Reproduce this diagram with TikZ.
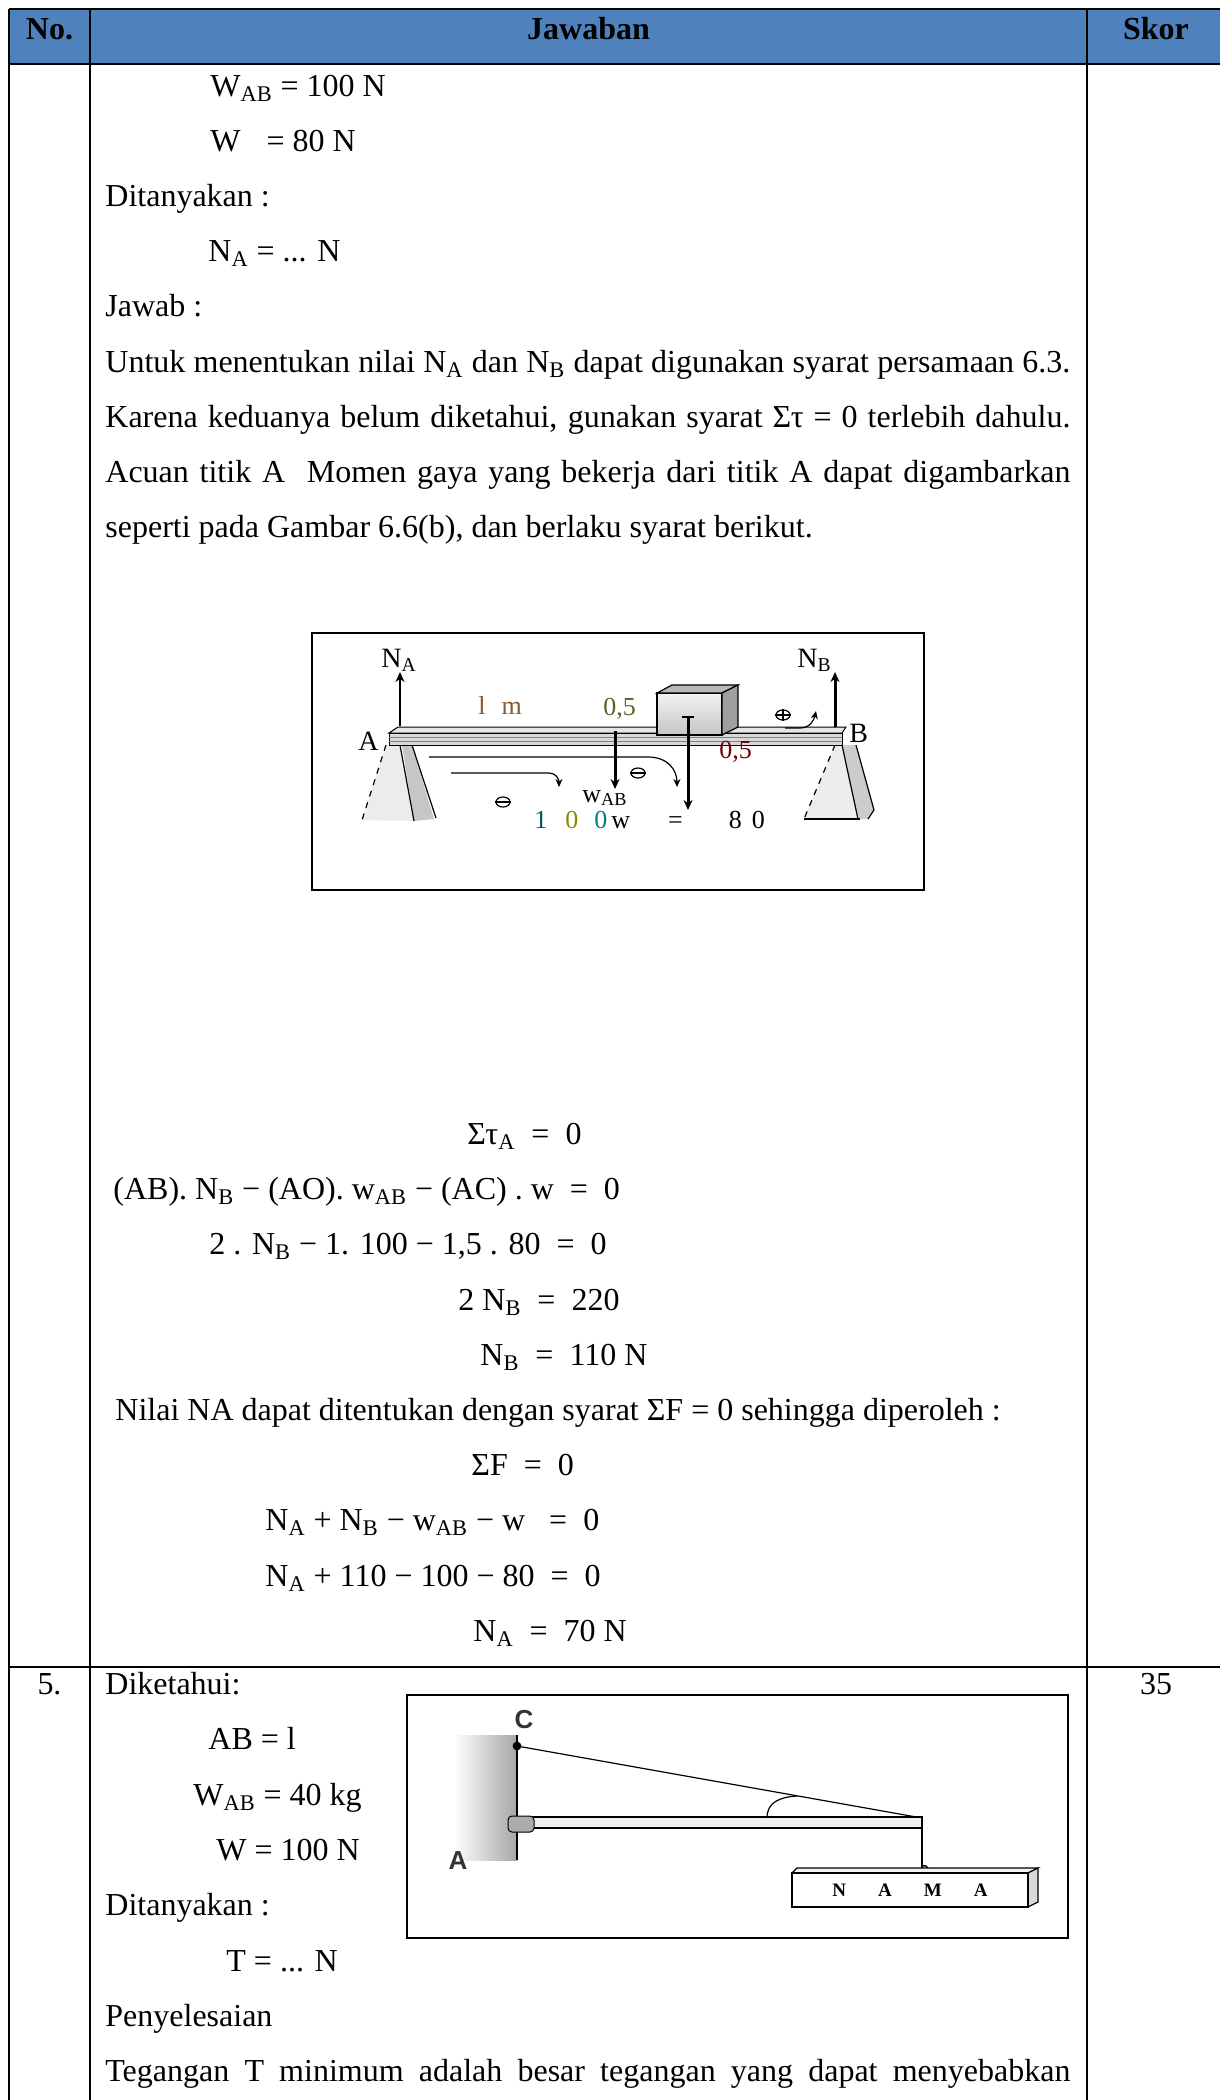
\documentclass[tikz,border=0pt]{standalone}
\usepackage{fontspec}
\setmainfont{Liberation Serif}
\newfontfamily\labelsans{Liberation Sans}
\usetikzlibrary{arrows.meta,shapes.geometric}
\definecolor{hdrblue}{RGB}{79,129,189}
\newcommand\fs{\fontsize{16}{19}\selectfont}
\newcommand\sbs[1]{\textsubscript{#1}}
\newcommand\jline[1]{\makebox[482.5pt][s]{#1}}

\begin{document}
\begin{tikzpicture}[x=0.5pt,y=-0.5pt,
    txt/.style={anchor=base west,inner sep=0pt,font=\fs},
    mid/.style={anchor=base,inner sep=0pt,font=\fs},
    hd/.style={anchor=base,inner sep=0pt,font=\fs\bfseries},
    tbl/.style={line width=0.9pt},
    frame/.style={draw,line width=0.75pt},
    lbl/.style={anchor=base west,inner sep=0pt,font=\fontsize{13}{13}\selectfont},
    force/.style={line width=1.5pt,-{Stealth[length=5pt,width=4.5pt]}},
    moment/.style={line width=0.6pt,-{Stealth[length=4pt,width=3.5pt]}},
    sgn/.style={draw,ellipse,minimum width=7pt,minimum height=5pt,inner sep=0pt,line width=0.6pt}]
  \useasboundingbox (0,0) rectangle (1220,2100);
  \fill[white] (0,0) rectangle (1220,2100);

  % table
  \fill[hdrblue] (9,9) rectangle (1225,64);
  \draw[tbl] (9,9) -- (1225,9);
  \draw[tbl] (9,64) -- (1225,64);
  \draw[tbl] (9,1667) -- (1225,1667);
  \foreach \x in {9,90,1087,1225} \draw[tbl] (\x,9) -- (\x,2110);
  \node[hd] (hno) at (49.5,39) {No.};
  \node[hd] (hjaw) at (588.5,39) {Jawaban};
  \node[hd] (hskor) at (1156,39) {Skor};

  % row 4 (lanjutan)
  \node[txt] (wab) at (210,96) {W\sbs{AB} = 100 N};
  \node[txt] (w) at (210,151) {W\hspace{13pt}= 80 N};
  \node[txt] (dit) at (105,206) {Ditanyakan :};
  \node[txt] (na) at (208,261) {N\sbs{A} = ... N};
  \node[txt] (jaw) at (105,316) {Jawab :};
  \node[txt] (par1) at (105,372) {\jline{Untuk menentukan nilai N\sbs{A} dan N\sbs{B} dapat digunakan syarat persamaan 6.3.}};
  \node[txt] (par2) at (105,427) {\jline{Karena keduanya belum diketahui, gunakan syarat Στ = 0 terlebih dahulu.}};
  \node[txt] (par3) at (105,482) {\jline{Acuan titik A\ \ Momen gaya yang bekerja dari titik A dapat digambarkan}};
  \node[txt] (par4) at (105,537) {seperti pada Gambar 6.6(b), dan berlaku syarat berikut.};

  % gambar batang
  \draw[frame] (312,633) rectangle (924,890);
  % penyangga A
  \fill[gray!15] (386,745) -- (362,820) -- (414,821) -- (400,745) -- cycle;
  \fill[gray!45] (402,745) -- (414,821) -- (434,819) -- (412,745) -- cycle;
  \draw[dashed,line width=0.6pt] (386,745) -- (362,820);
  \draw[line width=0.6pt] (400,745) -- (414,821);
  \draw[line width=0.6pt] (412,745) -- (436,818);
  % penyangga B
  \fill[gray!15] (835,745) -- (804,819) -- (858,819) -- (842,745) -- cycle;
  \fill[gray!40] (842,745) -- (858,819) -- (868,819) -- (874,810) -- (856,745) -- cycle;
  \draw[dashed,line width=0.6pt] (835,745) -- (804,819);
  \draw[line width=0.6pt] (804,819) -- (860,819);
  \draw[line width=0.6pt] (842,745) -- (858,819);
  \draw[line width=0.6pt] (856,745) -- (874,810) -- (868,819);
  % batang
  \filldraw[fill=gray!20,line width=0.5pt] (389,733) -- (398,727) -- (846,727) -- (842,733) -- cycle;
  \filldraw[fill=gray!30,line width=0.5pt] (389,733) rectangle (842,745);
  \draw[gray,line width=0.4pt] (389,737) -- (842,737);
  \draw[gray,line width=0.4pt] (389,741) -- (842,741);
  % beban
  \shadedraw[top color=gray!10,bottom color=gray!45,line width=0.6pt] (657,693) rectangle (722,735);
  \filldraw[fill=gray!55,line width=0.6pt] (657,693) -- (672,685) -- (738,685) -- (722,693) -- cycle;
  \filldraw[fill=gray!75,line width=0.6pt] (722,693) -- (738,685) -- (738,727) -- (722,735) -- cycle;
  % gaya
  \coordinate (pA) at (400,726);
  \coordinate (pB) at (835,727);
  \coordinate (pO) at (615,731);
  \coordinate (pC) at (688,717);
  \draw[line width=0.8pt,-{Stealth[length=5pt,width=4.5pt]}] (pA) -- ++(0,-54);
  \draw[force] (pB) -- ++(0,-55);
  \draw[force] (pO) -- ++(0,58);
  \draw[force] (pC) -- ++(0,93);
  \draw[line width=1.2pt] (682,717) -- (694,717);
  % momen
  \draw[moment] (429,757) -- (648,757) .. controls (668,757) and (677,770) .. (677,787);
  \draw[moment] (451,773) -- (549,773) .. controls (556,773) and (559,779) .. (559,787);
  \draw[moment] (785,728) -- (800,728) .. controls (810,728) and (814,720) .. (816,711);
  \node[sgn] (s1) at (783,715) {};
  \draw[line width=0.6pt] (s1.west) -- (s1.east) (s1.north) -- (s1.south);
  \node[sgn] (s2) at (638,773) {};
  \draw[line width=0.6pt] (s2.west) -- (s2.east);
  \node[sgn] (s3) at (503,802) {};
  \draw[line width=0.6pt] (s3.west) -- (s3.east);
  % label
  \node[lbl,font=\fontsize{14}{14}\selectfont] (lNA) at (381,667) {N\sbs{A}};
  \node[lbl,font=\fontsize{14}{14}\selectfont] (lNB) at (797,667) {N\sbs{B}};
  \node[lbl,font=\fontsize{14}{14}\selectfont] (lA) at (358,750) {A};
  \node[lbl,font=\fontsize{14}{14}\selectfont] (lB) at (849,742) {B};
  \node[lbl,text=brown!70!black] (l1m) at (478,714) {l\hspace{8pt}m};
  \node[lbl,text=olive!60!black] (lh1) at (603,715) {0,5};
  \node[lbl,text=red!45!black] (lh2) at (719,758) {0,5};
  \node[lbl] (lwab) at (582,802) {w\sbs{AB}};
  \node[lbl] (ltot) at (534,828) {{\color{teal!70!black}1\hspace{9pt}\color{olive}0\hspace{8pt}\color{teal}0}\hspace{2pt}w\hspace{19pt}=\hspace{23pt}8\hspace{5pt}0};

  % persamaan
  \node[txt] (eq1) at (467,1144) {Στ\sbs{A}\ \ =\ \ 0};
  \node[txt] (eq2) at (113,1199) {(AB). N\sbs{B} − (AO). w\sbs{AB} − (AC) . w\ \ =\ \ 0};
  \node[txt] (eq3) at (209,1254) {2 . N\sbs{B} − 1. 100 − 1,5 . 80\ \ =\ \ 0};
  \node[txt] (eq4) at (458,1310) {2 N\sbs{B}\ \ =\ \ 220};
  \node[txt] (eq5) at (480,1365) {N\sbs{B}\ \ =\ \ 110 N};
  \node[txt] (eq6) at (115,1420) {Nilai NA dapat ditentukan dengan syarat ΣF = 0 sehingga diperoleh :};
  \node[txt] (eq7) at (471,1475) {ΣF\ \ =\ \ 0};
  \node[txt] (eq8) at (265,1530) {N\sbs{A} + N\sbs{B} − w\sbs{AB} − w\ \ \ =\ \ 0};
  \node[txt] (eq9) at (265,1586) {N\sbs{A} + 110 − 100 − 80\ \ =\ \ 0};
  \node[txt] (eq10) at (473,1641) {N\sbs{A}\ \ =\ \ 70 N};

  % row 5
  \node[mid] (no5) at (49.5,1694) {5.};
  \node[mid] (skor5) at (1156,1694) {35};
  \node[txt] (dik) at (105,1694) {Diketahui:};
  \node[txt] (ab) at (208,1749) {AB = l};
  \node[txt] (wab2) at (193,1805) {W\sbs{AB} = 40 kg};
  \node[txt] (w2) at (216,1860) {W = 100 N};
  \node[txt] (dit2) at (105,1915) {Ditanyakan :};
  \node[txt] (tq) at (226,1971) {T = ... N};
  \node[txt] (pen) at (105,2026) {Penyelesaian};
  \node[txt] (teg) at (105,2081) {\jline{Tegangan T minimum adalah besar tegangan yang dapat menyebabkan}};

  % gambar papan nama
  \draw[frame] (407,1695) rectangle (1068,1938);
  \shade[left color=white,right color=gray!70] (454,1735) rectangle (517,1860);
  \draw[line width=1.2pt] (517,1735) -- (517,1860);
  \coordinate (C) at (517,1746);
  \coordinate (E) at (922,1818);
  \fill (C) circle (2.2pt);
  \draw[line width=0.6pt] (C) -- (E);
  \filldraw[fill=gray!12,line width=0.6pt] (517,1817) rectangle (E |- 0,1828);
  \filldraw[fill=gray!65,line width=0.5pt,rounded corners=2pt] (508,1816) rectangle (534,1832);
  \draw[line width=0.6pt] (767,1818) .. controls (767,1802) and (780,1797) .. (797,1796);
  \draw[line width=0.7pt] (E) -- (922,1873);
  \draw[line width=0.7pt] (922,1866) .. controls (930,1864) and (930,1873) .. (922,1873);
  \filldraw[fill=gray!10,line width=0.6pt] (792,1873) -- (797,1868) -- (1038,1868) -- (1028,1873) -- cycle;
  \filldraw[fill=gray!30,line width=0.6pt] (1028,1873) -- (1038,1868) -- (1038,1902) -- (1028,1907) -- cycle;
  \draw[line width=0.7pt] (792,1873) rectangle (1028,1907);
  \node[inner sep=0pt,font=\fontsize{9.5}{10}\selectfont\bfseries] (nama) at (910,1890) {N\hspace{16pt}A\hspace{16pt}M\hspace{16pt}A};
  \node[inner sep=0pt,font=\labelsans\bfseries\fontsize{13}{13}\selectfont,text=black!80] (lC) at (524,1720) {C};
  \node[inner sep=0pt,font=\labelsans\bfseries\fontsize{13}{13}\selectfont,text=black!80] (lA2) at (458,1861) {A};
\end{tikzpicture}
\end{document}
